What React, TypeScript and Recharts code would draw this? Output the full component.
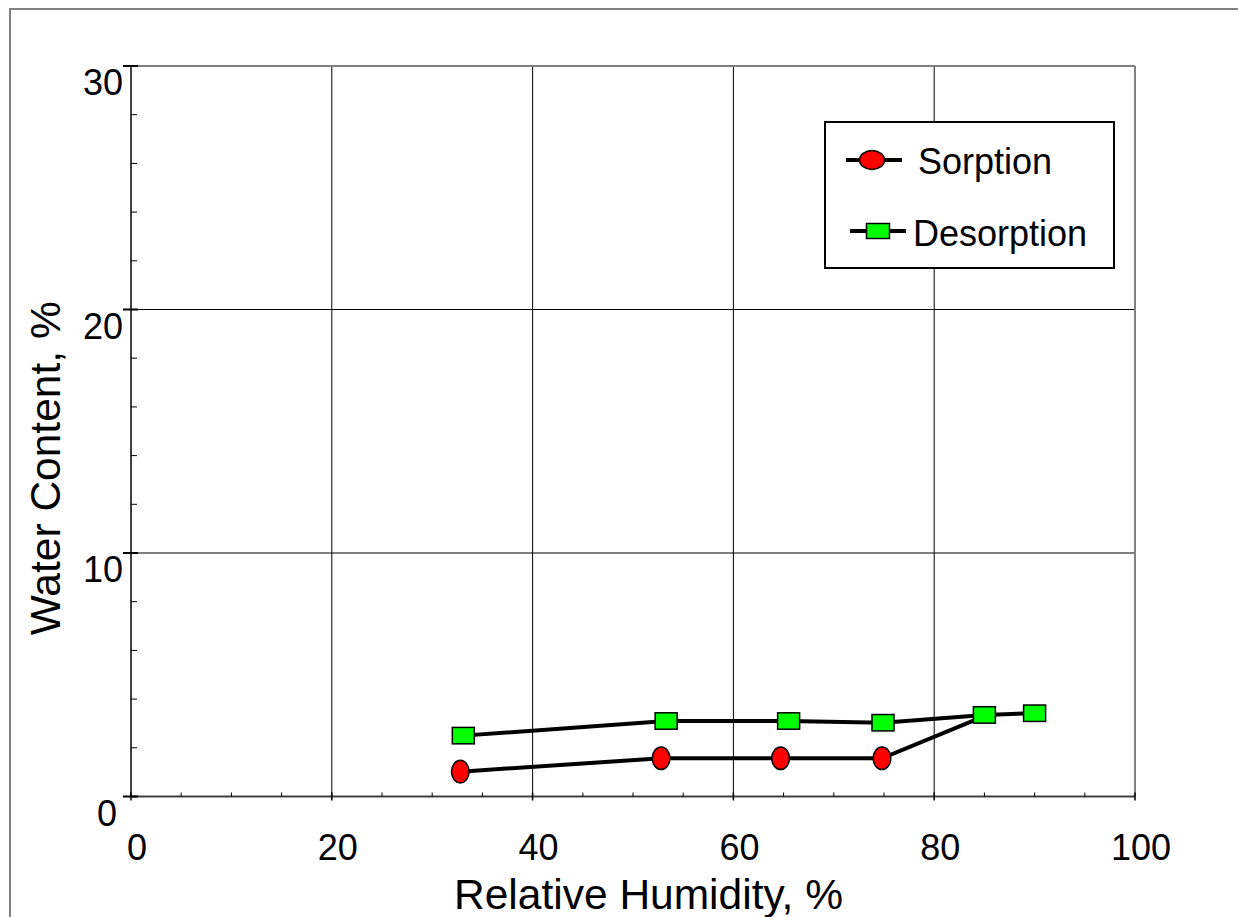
import React from 'react';
import { LineChart, Line, XAxis, YAxis, ReferenceLine, Legend } from 'recharts';

const sorptionRH = [32.8, 52.8, 64.7, 74.8, 85];
const sorptionWC = [1.02, 1.57, 1.57, 1.57, 3.3];
const desorptionRH = [33.1, 53.3, 65.5, 74.9, 85, 90];
const desorptionWC = [2.5, 3.1, 3.1, 3.03, 3.35, 3.42];

const xTicks = [0, 5, 10, 15, 20, 25, 30, 35, 40, 45, 50, 55, 60, 65, 70, 75, 80, 85, 90, 95, 100];
const xLabelTicks = [0, 20, 40, 60, 80, 100];
const yTicks = [0, 2, 4, 6, 8, 10, 12, 14, 16, 18, 20, 22, 24, 26, 28, 30];
const yLabelTicks = [0, 10, 20, 30];
const xGrid = [20, 40, 60, 80];
const yGrid = [10, 20];
const xBorder = 100;
const yBorder = 30;

const seriesNames = ['Sorption', 'Desorption'];
const xTitle = 'Relative Humidity, %';
const yTitle = 'Water Content, %';

const FONT = '"Liberation Sans", Arial, Helvetica, sans-serif';

const sorptionData = sorptionRH.map((x, i) => ({ x, y: sorptionWC[i] }));
const desorptionData = desorptionRH.map((x, i) => ({ x, y: desorptionWC[i] }));

const XTick = (props: any) => {
  const { x, y, payload } = props;
  const v = payload.value;
  const major = xLabelTicks.includes(v);
  return (
    <g>
      {major ? (
        <line x1={x} x2={x} y1={y - 4} y2={y + 4} stroke="#000" strokeWidth={1.5} />
      ) : (
        <line x1={x} x2={x} y1={y - 4} y2={y} stroke="#000" strokeWidth={1} />
      )}
      {major && (
        <text x={x + 6} y={y + 63.5} textAnchor="middle" fontSize={36} fontFamily={FONT} fill="#000">
          {v}
        </text>
      )}
    </g>
  );
};

const YTick = (props: any) => {
  const { x, y, payload } = props;
  const v = payload.value;
  const major = yLabelTicks.includes(v);
  return (
    <g>
      {major ? (
        <line x1={x - 8} x2={x + 7} y1={y} y2={y} stroke="#000" strokeWidth={2} />
      ) : (
        <line x1={x} x2={x + 6} y1={y} y2={y} stroke="#000" strokeWidth={1} />
      )}
      {major && (
        <text x={v === 0 ? x - 14 : x - 8} y={y + 29} textAnchor="end" fontSize={36} fontFamily={FONT} fill="#000">
          {v}
        </text>
      )}
    </g>
  );
};

const SorptionDot = (props: any) => {
  const { cx, cy, index } = props;
  if (cx == null || cy == null || index === sorptionRH.length - 1) return <g key={`s-${index}`} />;
  return <ellipse key={`s-${index}`} cx={cx} cy={cy} rx={8.8} ry={11.3} fill="#ff0000" stroke="#000" strokeWidth={1.5} />;
};

const DesorptionDot = (props: any) => {
  const { cx, cy, index } = props;
  if (cx == null || cy == null) return <g key={`d-${index}`} />;
  return <rect key={`d-${index}`} x={cx - 11} y={cy - 8.2} width={22} height={16.4} fill="#00ff00" stroke="#000" strokeWidth={1.5} />;
};

const renderLegend = (props: any) => {
  const payload = [...(props.payload || [])].sort(
    (a: any, b: any) => seriesNames.indexOf(a.value) - seriesNames.indexOf(b.value)
  );
  const rows = [
    { ly: 39, lx1: 22, lx2: 78, mx: 48, tx: 94, ty: 53 },
    { ly: 110, lx1: 26, lx2: 82, mx: 54, tx: 89, ty: 125 },
  ];
  return (
    <svg width={292} height={148} style={{ display: 'block' }}>
      <rect x={1} y={1} width={289} height={146} fill="#fff" stroke="#000" strokeWidth={2} />
      {payload.map((entry: any, i: number) => {
        const r = rows[i] || rows[0];
        const isSorption = entry.value === seriesNames[0];
        return (
          <g key={entry.value}>
            <line x1={r.lx1} x2={r.lx2} y1={r.ly} y2={r.ly} stroke="#000" strokeWidth={4} />
            {isSorption ? (
              <ellipse cx={r.mx} cy={r.ly} rx={12.5} ry={9.5} fill="#ff0000" stroke="#000" strokeWidth={1.5} />
            ) : (
              <rect x={r.mx - 11.5} y={r.ly - 7.5} width={23} height={15} fill="#00ff00" stroke="#000" strokeWidth={1.5} />
            )}
            <text x={r.tx} y={r.ty} fontSize={36} fontFamily={FONT} fill="#000">
              {entry.value}
            </text>
          </g>
        );
      })}
    </svg>
  );
};

const XTitle = (props: any) => {
  const vb = props.viewBox || {};
  return (
    <text x={vb.x + vb.width / 2 + 15.5} y={vb.y + 112} textAnchor="middle" fontSize={42.5} fontFamily={FONT} fill="#000">
      {xTitle}
    </text>
  );
};

const YTitle = (props: any) => {
  const vb = props.viewBox || {};
  const cx = vb.x + 52;
  const cy = vb.y + vb.height / 2 + 37;
  return (
    <text x={cx} y={cy} transform={`rotate(-90, ${cx}, ${cy})`} textAnchor="middle" fontSize={42.5} fontFamily={FONT} fill="#000">
      {yTitle}
    </text>
  );
};

export default function App() {
  return (
    <div style={{ position: 'fixed', left: 0, top: 0, width: 1238, height: 917, overflow: 'hidden', background: '#fff', fontFamily: FONT }}>
      <div style={{ position: 'absolute', left: 9, top: 8, width: 1400, height: 1100, border: '2px solid #808080' }} />
      <div style={{ position: 'absolute', left: 8, top: 8 }}>
        <LineChart width={1230} height={909} margin={{ top: 58, right: 103, bottom: 0, left: 0 }}>
          <XAxis
            type="number"
            dataKey="x"
            domain={[0, 100]}
            ticks={xTicks}
            interval={0}
            height={120.5}
            tickSize={0}
            tickMargin={0}
            tickLine={false}
            axisLine={{ stroke: '#404040', strokeWidth: 2 }}
            tick={<XTick />}
            allowDataOverflow
            label={<XTitle />}
          />
          <YAxis
            type="number"
            dataKey="y"
            domain={[0, 30]}
            ticks={yTicks}
            interval={0}
            width={123}
            tickSize={0}
            tickMargin={0}
            tickLine={false}
            axisLine={{ stroke: '#404040', strokeWidth: 2 }}
            tick={<YTick />}
            allowDataOverflow
            label={<YTitle />}
          />
          {xGrid.map((v) => (
            <ReferenceLine key={`gx-${v}`} x={v} stroke="#000" strokeWidth={1} />
          ))}
          {yGrid.map((v) => (
            <ReferenceLine key={`gy-${v}`} y={v} stroke="#000" strokeWidth={1} />
          ))}
          <ReferenceLine x={xBorder} stroke="#808080" strokeWidth={2} />
          <ReferenceLine y={yBorder} stroke="#808080" strokeWidth={2} />
          <Legend
            layout="horizontal"
            verticalAlign="middle"
            align="center"
            content={renderLegend}
            wrapperStyle={{ left: 816, top: 113, width: 292, height: 148 }}
          />
          <Line
            name={seriesNames[0]}
            data={sorptionData}
            dataKey="y"
            type="linear"
            stroke="#000"
            strokeWidth={4}
            dot={<SorptionDot />}
            activeDot={false}
            isAnimationActive={false}
          />
          <Line
            name={seriesNames[1]}
            data={desorptionData}
            dataKey="y"
            type="linear"
            stroke="#000"
            strokeWidth={4}
            dot={<DesorptionDot />}
            activeDot={false}
            isAnimationActive={false}
          />
        </LineChart>
      </div>
    </div>
  );
}
